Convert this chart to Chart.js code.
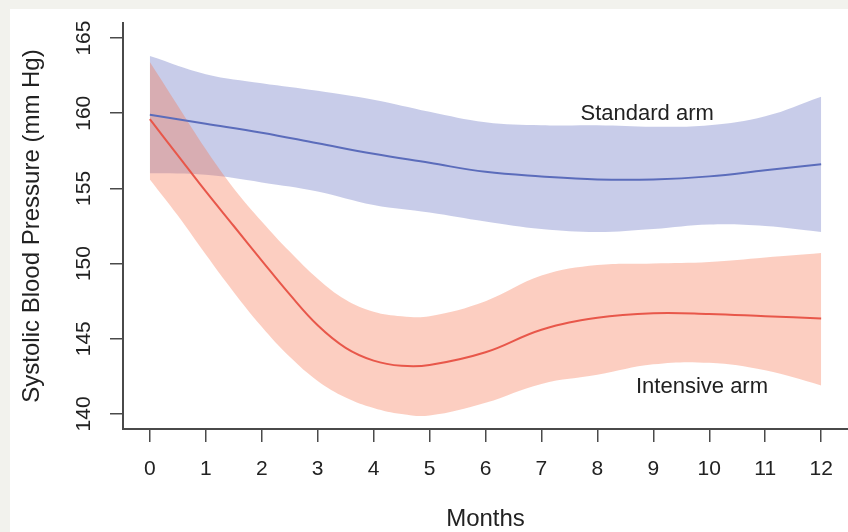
<!DOCTYPE html>
<html>
<head>
<meta charset="utf-8">
<script src="https://cdn.jsdelivr.net/npm/chart.js@4/dist/chart.umd.min.js"></script>
<style>
  html, body { margin: 0; padding: 0; background: #ffffff; }
  #c { display: block; }
</style>
</head>
<body>
<canvas id="c" width="848" height="532"></canvas>
<script>
// ---- Data ----
const monthsStd = [0, 1, 2, 3, 4, 5, 6, 7, 8, 9, 10, 11, 12];
const stdMean  = [159.9, 159.3, 158.7, 158.0, 157.3, 156.7, 156.1, 155.8, 155.6, 155.6, 155.8, 156.2, 156.6];
const stdUpper = [163.8, 162.6, 162.0, 161.5, 160.9, 160.1, 159.4, 159.2, 159.2, 159.1, 159.2, 159.8, 161.1];
const stdLower = [156.0, 155.9, 155.4, 154.8, 153.9, 153.4, 152.8, 152.3, 152.1, 152.3, 152.6, 152.5, 152.1];

const monthsInt = [0, 0.5, 1, 1.5, 2, 2.5, 3, 3.5, 4, 4.5, 5, 6, 7, 8, 9, 10, 11, 12];
const intMean  = [159.6, 157.2, 154.8, 152.5, 150.2, 147.95, 145.9, 144.4, 143.55, 143.2, 143.25, 144.1, 145.6, 146.4, 146.7, 146.65, 146.5, 146.35];
const intUpper = [163.4, 160.5, 157.6, 155.0, 152.8, 150.8, 149.0, 147.6, 146.8, 146.5, 146.5, 147.5, 149.2, 149.9, 150.0, 150.1, 150.4, 150.7];
const intLower = [155.6, 153.2, 150.6, 148.1, 145.8, 143.8, 142.2, 141.1, 140.4, 140.0, 139.9, 140.75, 142.0, 142.6, 143.3, 143.4, 142.9, 141.9];

const xTicks = [0, 1, 2, 3, 4, 5, 6, 7, 8, 9, 10, 11, 12];
const yTicks = [140, 145, 150, 155, 160, 165];
const seriesNames = ['Standard arm', 'Intensive arm'];
const xTitle = 'Months';
const yTitle = 'Systolic Blood Pressure (mm Hg)';

// ---- Helpers ----
const pts = (xs, ys) => xs.map((x, i) => ({ x: x, y: ys[i] }));
const FONT = "'Liberation Sans', Arial, Helvetica, sans-serif";
const TEXT = '#222222';
const AXIS = '#4a4a4a';

const lineBase = { pointRadius: 0, pointHoverRadius: 0, tension: 0.4 };
const bandBase = Object.assign({}, lineBase, { borderWidth: 1, borderColor: 'rgba(0,0,0,0)' });

const framePlugin = {
  id: 'frame',
  beforeDraw(chart) {
    const ctx = chart.ctx;
    ctx.save();
    ctx.fillStyle = '#f2f2ed';
    ctx.fillRect(0, 0, chart.width, chart.height);
    ctx.fillStyle = '#ffffff';
    ctx.fillRect(10, 9, chart.width - 10, chart.height - 9);
    ctx.restore();
  }
};

const labelPlugin = {
  id: 'armLabels',
  afterDatasetsDraw(chart) {
    const ctx = chart.ctx;
    const xs = chart.scales.x, ys = chart.scales.y;
    const places = [
      { text: seriesNames[0], x: 8.89, y: 159.93 },
      { text: seriesNames[1], x: 9.87, y: 141.8 }
    ];
    ctx.save();
    ctx.fillStyle = TEXT;
    ctx.font = '22px ' + FONT;
    ctx.textAlign = 'center';
    ctx.textBaseline = 'middle';
    places.forEach(p => ctx.fillText(p.text, xs.getPixelForValue(p.x), ys.getPixelForValue(p.y)));
    ctx.restore();
  }
};

new Chart(document.getElementById('c'), {
  type: 'line',
  data: {
    datasets: [
      Object.assign({}, lineBase, { label: seriesNames[0], data: pts(monthsStd, stdMean), borderColor: '#5b6cbb', borderWidth: 2, fill: false, order: 1 }),
      Object.assign({}, lineBase, { label: seriesNames[1], data: pts(monthsInt, intMean), borderColor: '#e8574a', borderWidth: 2, fill: false, order: 0 }),
      Object.assign({}, bandBase, { label: 'int upper', data: pts(monthsInt, intUpper), fill: '+1', backgroundColor: 'rgba(246,115,78,0.35)', order: 2 }),
      Object.assign({}, bandBase, { label: 'int lower', data: pts(monthsInt, intLower), fill: false, order: 3 }),
      Object.assign({}, bandBase, { label: 'std upper', data: pts(monthsStd, stdUpper), fill: '+1', backgroundColor: 'rgba(98,109,192,0.35)', order: 4 }),
      Object.assign({}, bandBase, { label: 'std lower', data: pts(monthsStd, stdLower), fill: false, order: 5 })
    ]
  },
  options: {
    responsive: false,
    animation: false,
    devicePixelRatio: 1,
    layout: { padding: { top: 23, right: 0, left: 0, bottom: 0 } },
    plugins: { legend: { display: false }, tooltip: { enabled: false } },
    scales: {
      x: {
        type: 'linear',
        min: -0.48,
        max: 12.48,
        afterBuildTicks: s => { s.ticks = xTicks.map(v => ({ value: v })); },
        afterFit: s => { s.height = 103; },
        grid: { drawOnChartArea: false, drawTicks: true, tickLength: 13, color: AXIS, lineWidth: 1.5 },
        border: { display: true, color: AXIS, width: 2 },
        ticks: { color: TEXT, font: { family: FONT, size: 21 }, padding: 15, maxRotation: 0, autoSkip: false },
        title: { display: true, text: xTitle, color: TEXT, font: { family: FONT, size: 24, lineHeight: 1 }, padding: { top: 0, bottom: 1 } }
      },
      y: {
        type: 'linear',
        min: 139,
        max: 166,
        afterBuildTicks: s => { s.ticks = yTicks.map(v => ({ value: v })); },
        afterFit: s => { s.width = 123; },
        grid: { drawOnChartArea: false, drawTicks: true, tickLength: 13, color: AXIS, lineWidth: 1.5 },
        border: { display: true, color: AXIS, width: 2 },
        ticks: { color: TEXT, font: { family: FONT, size: 21 }, padding: 8, minRotation: 90, maxRotation: 90, crossAlign: 'center', autoSkip: false },
        title: { display: true, text: yTitle, color: TEXT, font: { family: FONT, size: 24, lineHeight: 1 }, padding: { top: 20, bottom: 0 } }
      }
    }
  },
  plugins: [framePlugin, labelPlugin]
});
</script>
</body>
</html>
